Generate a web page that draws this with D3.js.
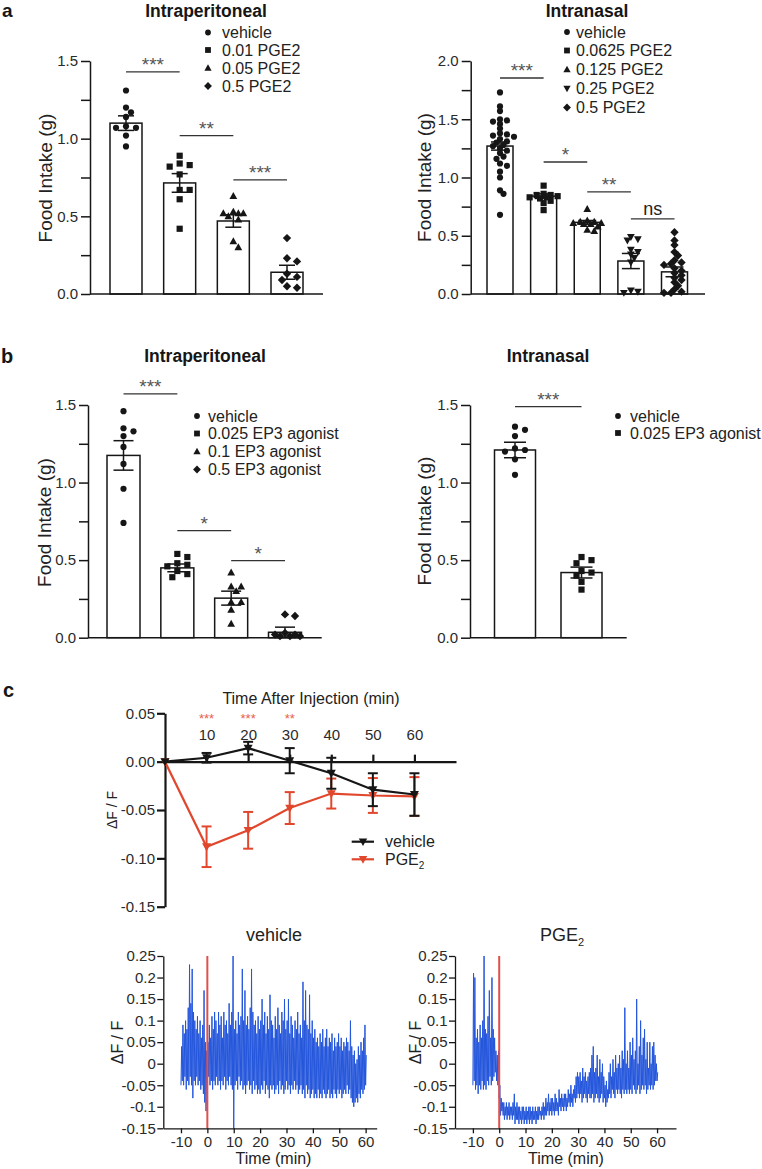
<!DOCTYPE html>
<html><head><meta charset="utf-8">
<script src="https://cdn.jsdelivr.net/npm/d3@7"></script>
<style>
body{margin:0;background:#fff;}
svg{display:block;}
</style></head><body>
<svg id="fig" width="762" height="1169"></svg>
<script>
// ---------------- DATA ----------------
// Panel a – intraperitoneal
const aIpGroups = ["vehicle", "0.01 PGE2", "0.05 PGE2", "0.5 PGE2"];
const aIpMeans = [1.10, 0.715, 0.47, 0.14];
const aIpSems = [0.047, 0.06, 0.04, 0.045];
const aIpVehicle = [1.31, 1.20, 1.17, 1.14, 1.08, 1.07, 1.07, 1.02, 0.95];
const aIp001 = [0.89, 0.84, 0.83, 0.82, 0.77, 0.67, 0.67, 0.61, 0.42];
const aIp005 = [0.63, 0.53, 0.52, 0.52, 0.52, 0.50, 0.48, 0.34, 0.30];
const aIp05 = [0.36, 0.23, 0.21, 0.13, 0.11, 0.09, 0.05, 0.04];
const aIpSigLabels = ["***", "**", "***"];
const aIpSigY = [1.43, 1.02, 0.735];

// Panel a – intranasal
const aInGroups = ["vehicle", "0.0625 PGE2", "0.125 PGE2", "0.25 PGE2", "0.5 PGE2"];
const aInMeans = [1.27, 0.84, 0.615, 0.283, 0.19];
const aInSems = [0.035, 0.02, 0.016, 0.065, 0.042];
const aInVehicle = [1.73, 1.61, 1.57, 1.50, 1.49, 1.48, 1.46, 1.42, 1.38, 1.37, 1.36, 1.35, 1.33, 1.31, 1.30, 1.28, 1.27, 1.25, 1.23, 1.21, 1.18, 1.16, 1.12, 1.10, 1.05, 1.00, 0.89, 0.86, 0.68];
const aIn00625 = [0.93, 0.86, 0.85, 0.85, 0.84, 0.83, 0.83, 0.82, 0.80, 0.78, 0.72];
const aIn0125 = [0.73, 0.63, 0.62, 0.62, 0.61, 0.61, 0.60, 0.60, 0.58, 0.55, 0.54];
const aIn025 = [0.49, 0.47, 0.46, 0.38, 0.36, 0.34, 0.31, 0.27, 0.03, 0.02, 0.01];
const aIn05 = [0.53, 0.46, 0.42, 0.36, 0.33, 0.29, 0.27, 0.26, 0.25, 0.22, 0.20, 0.18, 0.16, 0.14, 0.12, 0.10, 0.07, 0.04, 0.02, 0.01, 0.01];
const aInSigLabels = ["***", "*", "**", "ns"];
const aInSigY = [1.854, 1.133, 0.876, 0.644];

// Panel b – intraperitoneal
const bIpGroups = ["vehicle", "0.025 EP3 agonist", "0.1 EP3 agonist", "0.5 EP3 agonist"];
const bIpMeans = [1.175, 0.45, 0.255, 0.035];
const bIpSems = [0.095, 0.025, 0.045, 0.033];
const bIpVehicle = [1.46, 1.35, 1.33, 1.30, 1.23, 1.12, 0.96, 0.74];
const bIp0025 = [0.54, 0.52, 0.48, 0.47, 0.46, 0.43, 0.41, 0.39];
const bIp01 = [0.42, 0.33, 0.33, 0.30, 0.23, 0.23, 0.18, 0.09];
const bIp05 = [0.15, 0.14, 0.03, 0.02, 0.02, 0.01, 0.01, 0.01];
const bIpSigLabels = ["***", "*", "*"];
const bIpSigY = [1.572, 0.69, 0.497];

// Panel b – intranasal
const bInGroups = ["vehicle", "0.025 EP3 agonist"];
const bInMeans = [1.21, 0.42];
const bInSems = [0.05, 0.035];
const bInVehicle = [1.36, 1.34, 1.30, 1.22, 1.21, 1.20, 1.15, 1.05];
const bIn0025 = [0.52, 0.50, 0.48, 0.43, 0.42, 0.40, 0.36, 0.31];
const bInSigLabels = ["***"];
const bInSigY = [1.49];

// Panel c – time course
const cTime = [0, 10, 20, 30, 40, 50, 60];
const cVehMean = [0, 0.004, 0.014, 0.001, -0.012, -0.029, -0.034];
const cVehSem = [0, 0.005, 0.0065, 0.013, 0.016, 0.017, 0.022];
const cPgeMean = [0, -0.088, -0.071, -0.048, -0.033, -0.035, -0.036];
const cPgeSem = [0, 0.021, 0.019, 0.0165, 0.0155, 0.018, 0.02];
const cXTicks = [10, 20, 30, 40, 50, 60];
const cYTicks = [-0.15, -0.10, -0.05, 0, 0.05];
const cStarTimes = [10, 20, 30];
const cStarLabels = ["***", "***", "**"];

// Panel c – example traces (per 0.5-min bin: low and high of the signal)
const trTime = d3.range(-10, 60.01, 0.5);
const trXTicks = [-10, 0, 10, 20, 30, 40, 50, 60];
const trYTicks = [-0.15, -0.1, -0.05, 0, 0.05, 0.1, 0.15, 0.2, 0.25];
const vehHi = [
  0.04, 0.09, 0.07, 0.10, 0.08, 0.13, 0.23, 0.14, 0.22, 0.12,
  0.10, 0.08, 0.11, 0.07, 0.10, 0.06, 0.09, 0.17, 0.05, 0.03,
  0.05, 0.09, 0.06, 0.11, 0.08, 0.12, 0.10, 0.07, 0.12, 0.09,
  0.11, 0.06, 0.12, 0.09, 0.10, 0.07, 0.14, 0.09, 0.12, 0.25,
  0.08, 0.10, 0.07, 0.12, 0.09, 0.11, 0.22, 0.10, 0.17, 0.09,
  0.11, 0.08, 0.13, 0.22, 0.12, 0.09, 0.10, 0.07, 0.11, 0.08,
  0.10, 0.15, 0.09, 0.12, 0.07, 0.11, 0.08, 0.16, 0.10, 0.09,
  0.06, 0.11, 0.08, 0.13, 0.09, 0.07, 0.12, 0.10, 0.15, 0.08,
  0.10, 0.15, 0.07, 0.11, 0.09, 0.06, 0.10, 0.08, 0.12, 0.07,
  0.09, 0.06, 0.19, 0.10, 0.17, 0.09, 0.08, 0.16, 0.07, 0.10,
  0.06, 0.08, 0.05, 0.06, 0.04, 0.07, 0.05, 0.08, 0.04, 0.06,
  0.08, 0.04, 0.06, 0.05, 0.07, 0.03, 0.06, 0.04, 0.05, 0.07,
  0.04, 0.06, 0.03, 0.05, 0.04, 0.06, 0.05, 0.03, 0.10, 0.04,
  0.02, 0.03, 0.00, 0.01, 0.04, 0.02, 0.05, 0.03, 0.06, 0.09,
  0.02];
const vehLo = [
  -0.05, -0.04, -0.05, -0.03, -0.06, -0.04, -0.05, -0.03, -0.05, -0.08,
  -0.04, -0.05, -0.03, -0.05, -0.04, -0.06, -0.05, -0.07, -0.09, -0.11,
  -0.06, -0.03, -0.05, -0.04, -0.06, -0.04, -0.05, -0.03, -0.05, -0.04,
  -0.06, -0.04, -0.05, -0.03, -0.06, -0.04, -0.05, -0.03, -0.05, -0.06,
  -0.15, -0.05, -0.04, -0.06, -0.03, -0.05, -0.04, -0.06, -0.05, -0.07,
  -0.05, -0.04, -0.06, -0.05, -0.07, -0.04, -0.06, -0.05, -0.07, -0.06,
  -0.07, -0.05, -0.06, -0.04, -0.07, -0.05, -0.06, -0.08, -0.05, -0.06,
  -0.05, -0.07, -0.06, -0.05, -0.07, -0.04, -0.06, -0.05, -0.07, -0.06,
  -0.04, -0.06, -0.05, -0.07, -0.05, -0.06, -0.04, -0.06, -0.05, -0.07,
  -0.06, -0.05, -0.07, -0.06, -0.08, -0.05, -0.07, -0.06, -0.08, -0.07,
  -0.06, -0.08, -0.07, -0.08, -0.06, -0.08, -0.07, -0.08, -0.06, -0.07,
  -0.08, -0.07, -0.06, -0.08, -0.07, -0.08, -0.06, -0.07, -0.08, -0.06,
  -0.07, -0.06, -0.08, -0.07, -0.06, -0.07, -0.05, -0.07, -0.06, -0.08,
  -0.09, -0.10, -0.09, -0.08, -0.09, -0.07, -0.08, -0.06, -0.07, -0.06,
  -0.05];
const pgeHi = [
  0.21, 0.20, 0.06, 0.08, 0.05, 0.09, 0.06, 0.10, 0.25, 0.08,
  0.07, 0.11, 0.17, 0.06, 0.20, 0.08, 0.06, 0.03, 0.02, 0.03,
  -0.05, -0.08, -0.09, -0.09, -0.10, -0.09, -0.10, -0.09, -0.10, -0.10,
  -0.09, -0.07, -0.10, -0.09, -0.10, -0.10, -0.11, -0.10, -0.10, -0.11,
  -0.10, -0.11, -0.10, -0.10, -0.11, -0.10, -0.11, -0.10, -0.11, -0.10,
  -0.10, -0.11, -0.10, -0.09, -0.10, -0.08, -0.09, -0.07, -0.09, -0.08,
  -0.08, -0.09, -0.07, -0.08, -0.09, -0.06, -0.08, -0.07, -0.08, -0.07,
  -0.07, -0.08, -0.06, -0.07, -0.05, -0.07, -0.06, -0.05, -0.03, -0.02,
  -0.03, -0.02, -0.04, -0.01, -0.03, -0.02, -0.04, -0.03, -0.02, -0.01,
  0.02, 0.04, -0.02, -0.01, 0.02, -0.03, 0.01, -0.02, 0.00, -0.03,
  -0.05, -0.04, -0.06, -0.02, 0.00, -0.03, 0.01, -0.02, 0.02, -0.01,
  0.00, 0.02, -0.01, 0.03, 0.01, 0.13, 0.00, 0.03, -0.01, 0.05,
  0.02, 0.06, 0.01, 0.03, 0.15, 0.00, 0.04, 0.10, 0.02, 0.06,
  0.08, 0.01, 0.05, -0.01, 0.05, 0.00, 0.04, 0.05, 0.02, 0.00,
  -0.02];
const pgeLo = [
  -0.05, -0.04, -0.06, -0.05, -0.07, -0.05, -0.06, -0.04, -0.06, -0.05,
  -0.06, -0.04, -0.05, -0.03, -0.05, -0.04, -0.03, -0.02, -0.04, -0.05,
  -0.08, -0.12, -0.11, -0.12, -0.13, -0.12, -0.13, -0.12, -0.13, -0.12,
  -0.13, -0.12, -0.14, -0.13, -0.13, -0.14, -0.13, -0.14, -0.13, -0.14,
  -0.13, -0.14, -0.13, -0.14, -0.13, -0.14, -0.13, -0.13, -0.14, -0.13,
  -0.13, -0.12, -0.13, -0.12, -0.13, -0.12, -0.12, -0.11, -0.12, -0.11,
  -0.12, -0.11, -0.12, -0.11, -0.11, -0.12, -0.10, -0.11, -0.10, -0.11,
  -0.10, -0.11, -0.10, -0.09, -0.10, -0.09, -0.10, -0.08, -0.09, -0.08,
  -0.07, -0.08, -0.07, -0.09, -0.08, -0.07, -0.08, -0.09, -0.07, -0.08,
  -0.08, -0.07, -0.09, -0.08, -0.07, -0.08, -0.09, -0.08, -0.07, -0.09,
  -0.08, -0.10, -0.09, -0.08, -0.07, -0.08, -0.06, -0.07, -0.08, -0.06,
  -0.07, -0.06, -0.07, -0.08, -0.06, -0.07, -0.06, -0.07, -0.06, -0.07,
  -0.06, -0.07, -0.05, -0.06, -0.07, -0.06, -0.05, -0.07, -0.06, -0.05,
  -0.06, -0.05, -0.07, -0.06, -0.05, -0.06, -0.05, -0.06, -0.05, -0.04,
  -0.04];

// ---------------- DRAWING ----------------
const FONT = "'Liberation Sans', Arial, Helvetica, sans-serif";
const INK = "#161616";
const RED = "#e1472d";
const BLUE = "#2456dc";
const svg = d3.select("#fig").attr("font-family", FONT);

function text(x, y, s, o = {}) {
  const t = svg.append("text").attr("x", x).attr("y", y)
    .attr("font-size", o.size || 16).attr("fill", o.fill || INK)
    .attr("text-anchor", o.anchor || "start")
    .attr("font-weight", o.bold ? "bold" : "normal");
  if (o.rotate) t.attr("transform", `rotate(-90,${x},${y})`);
  t.text(s);
  return t;
}

function styleAxis(sel, fs, sw) {
  sel.attr("font-family", FONT).attr("font-size", fs);
  sel.select(".domain").attr("stroke", INK).attr("stroke-width", sw);
  sel.selectAll(".tick line").attr("stroke", INK).attr("stroke-width", sw);
  sel.selectAll(".tick text").attr("fill", "#2a2a2a");
}

function shapePath(shape, r) {
  switch (shape) {
    case "circle": return d3.symbol(d3.symbolCircle, Math.PI * r * r)();
    case "square": return `M${-r},${-r}H${r}V${r}H${-r}Z`;
    case "triangle": return `M0,${-r * 1.3}L${r * 1.25},${r * 0.95}L${-r * 1.25},${r * 0.95}Z`;
    case "triangleDown": return `M0,${r * 1.3}L${r * 1.25},${-r * 0.95}L${-r * 1.25},${-r * 0.95}Z`;
    case "diamond": return `M0,${-r * 1.35}L${r * 1.35},0L0,${r * 1.35}L${-r * 1.35},0Z`;
  }
}

// deterministic scatter spreading (GraphPad-like)
function swarm(vals, y, step, dmin, maxOff) {
  const placed = [];
  const out = new Array(vals.length);
  vals.map((v, i) => ({ v, i })).sort((a, b) => b.v - a.v).forEach(p => {
    const py = y(p.v);
    let best = 0, bestD = -1, dx = 0;
    for (let n = 0; n < 60; n++) {
      dx = n === 0 ? 0 : (n % 2 ? 1 : -1) * Math.ceil(n / 2) * step;
      if (Math.abs(dx) > maxOff) break;
      const d = placed.length ? d3.min(placed, q => Math.hypot(q.dx - dx, q.py - py)) : 99;
      if (d >= dmin) { best = dx; bestD = d; break; }
      if (d > bestD) { bestD = d; best = dx; }
    }
    placed.push({ dx: best, py });
    out[p.i] = { dx: best, py };
  });
  return out;
}

function barPanel(o) {
  const g = svg.append("g");
  const y = d3.scaleLinear().domain([0, o.yMax]).range([o.yBot, o.yTop]);
  const x = d3.scalePoint().domain(o.groups).range(o.centers);

  g.append("g").selectAll("rect").data(o.groups).join("rect")
    .attr("x", d => x(d) - o.barW / 2).attr("width", o.barW)
    .attr("y", (d, i) => y(o.means[i])).attr("height", (d, i) => y(0) - y(o.means[i]))
    .attr("fill", "#fff").attr("stroke", INK).attr("stroke-width", 1.5);

  o.groups.forEach((grp, gi) => {
    const sw = swarm(o.points[gi], y, o.step, o.dmin, o.maxOff);
    g.append("g").selectAll("path").data(sw).join("path")
      .attr("d", shapePath(o.shapes[gi], 3.1))
      .attr("transform", d => `translate(${x(grp) + d.dx},${d.py})`)
      .attr("fill", INK);
  });

  const eb = g.append("g").attr("stroke", INK).attr("stroke-width", 1.5);
  o.groups.forEach((grp, i) => {
    const cx = x(grp), top = y(o.means[i] + o.sems[i]), bot = y(Math.max(0, o.means[i] - o.sems[i]));
    eb.append("line").attr("x1", cx).attr("x2", cx).attr("y1", top).attr("y2", bot);
    eb.append("line").attr("x1", cx - o.cap).attr("x2", cx + o.cap).attr("y1", top).attr("y2", top);
    eb.append("line").attr("x1", cx - o.cap).attr("x2", cx + o.cap).attr("y1", bot).attr("y2", bot);
  });

  const yAx = d3.axisLeft(y).tickValues(d3.range(0, o.yMax + 1e-9, 0.25))
    .tickSize(9).tickSizeOuter(0).tickPadding(3)
    .tickFormat(d => Math.abs(d * 2 - Math.round(d * 2)) < 1e-9 ? d.toFixed(1) : "");
  styleAxis(g.append("g").attr("transform", `translate(${o.axisX},0)`).call(yAx), 15, 1.5);
  g.append("line").attr("x1", o.axisX).attr("x2", o.axisEnd).attr("y1", y(0)).attr("y2", y(0))
    .attr("stroke", INK).attr("stroke-width", 1.5);

  o.sigLabels.forEach((lab, k) => {
    const a = o.groups[k], b = o.groups[k + 1];
    const yy = y(o.sigY[k]);
    g.append("line").attr("x1", x(a)).attr("x2", x(b)).attr("y1", yy).attr("y2", yy)
      .attr("stroke", "#333").attr("stroke-width", 1.3);
    g.append("text").attr("x", (x(a) + x(b)) / 2).attr("y", lab === "ns" ? yy - 4 : yy - 1)
      .attr("text-anchor", "middle").attr("font-size", lab === "ns" ? 18 : 19)
      .attr("fill", lab === "ns" ? "#222" : "#555").text(lab);
  });

  text(o.titleX, o.titleY, o.title, { size: 17.5, bold: true, anchor: "middle" });
  text(o.yLab[0], o.yLab[1], "Food Intake (g)", { size: 19, anchor: "middle", rotate: true, fill: "#222" });

  o.groups.forEach((grp, i) => {
    const by = o.legend.baselines[i];
    g.append("path").attr("d", shapePath(o.shapes[i], 2.9))
      .attr("transform", `translate(${o.legend.mx},${by - 5.5})`).attr("fill", INK);
    text(o.legend.tx, by, grp, { size: 16, fill: "#222" });
  });
}

// panel labels
text(2, 17, "a", { size: 19, bold: true });
text(1, 363, "b", { size: 20, bold: true });
text(3, 697, "c", { size: 20, bold: true });

barPanel({
  axisX: 90, axisEnd: 323, yTop: 61, yBot: 294, yMax: 1.5,
  centers: [126, 287], barW: 32, cap: 8, step: 5, dmin: 6.8, maxOff: 14,
  groups: aIpGroups, means: aIpMeans, sems: aIpSems,
  points: [aIpVehicle, aIp001, aIp005, aIp05],
  shapes: ["circle", "square", "triangle", "diamond"],
  sigLabels: aIpSigLabels, sigY: aIpSigY,
  title: "Intraperitoneal", titleX: 206, titleY: 16.5,
  yLab: [52, 178],
  legend: { mx: 208, tx: 222, baselines: [38, 55.5, 73.5, 91.5] }
});

barPanel({
  axisX: 470.7, axisEnd: 705, yTop: 61, yBot: 294, yMax: 2.0,
  centers: [500, 674.5], barW: 26, cap: 9, step: 3.5, dmin: 4.6, maxOff: 14,
  groups: aInGroups, means: aInMeans, sems: aInSems,
  points: [aInVehicle, aIn00625, aIn0125, aIn025, aIn05],
  shapes: ["circle", "square", "triangle", "triangleDown", "diamond"],
  sigLabels: aInSigLabels, sigY: aInSigY,
  title: "Intranasal", titleX: 587, titleY: 16.5,
  yLab: [431, 177.5],
  legend: { mx: 567, tx: 576, baselines: [37.5, 56, 75, 94, 113] }
});

barPanel({
  axisX: 88, axisEnd: 321.7, yTop: 405, yBot: 637.7, yMax: 1.5,
  centers: [123.5, 285], barW: 33, cap: 10, step: 5, dmin: 6.5, maxOff: 15,
  groups: bIpGroups, means: bIpMeans, sems: bIpSems,
  points: [bIpVehicle, bIp0025, bIp01, bIp05],
  shapes: ["circle", "square", "triangle", "diamond"],
  sigLabels: bIpSigLabels, sigY: bIpSigY,
  title: "Intraperitoneal", titleX: 205, titleY: 362,
  yLab: [50.5, 522.5],
  legend: { mx: 197, tx: 208, baselines: [421.5, 439, 457, 475] }
});

barPanel({
  axisX: 470, axisEnd: 626.7, yTop: 405, yBot: 637.7, yMax: 1.5,
  centers: [515, 581.5], barW: 41, cap: 11, step: 5, dmin: 6.5, maxOff: 15,
  groups: bInGroups, means: bInMeans, sems: bInSems,
  points: [bInVehicle, bIn0025],
  shapes: ["circle", "square"],
  sigLabels: bInSigLabels, sigY: bInSigY,
  title: "Intranasal", titleX: 548, titleY: 362,
  yLab: [430.5, 521],
  legend: { mx: 618, tx: 630, baselines: [421.5, 438.5] }
});

// ---- panel c: time course ----
(function () {
  const g = svg.append("g");
  const x = d3.scaleLinear().domain([0, 70]).range([165, 456]);
  const y = d3.scaleLinear().domain([-0.15, 0.05]).range([906.7, 713.3]);

  const yAx = d3.axisLeft(y).tickValues(cYTicks).tickSize(8).tickSizeOuter(0).tickPadding(2)
    .tickFormat(d => d.toFixed(2));
  styleAxis(g.append("g").attr("transform", "translate(165,0)").call(yAx), 15, 2.2);
  const xAx = d3.axisTop(x).tickValues(cXTicks).tickSize(7).tickSizeOuter(0).tickPadding(15)
    .tickFormat(d => String(d));
  styleAxis(g.append("g").attr("transform", `translate(0,${y(0)})`).call(xAx), 15, 2.2);

  text(311, 703.5, "Time After Injection (min)", { size: 16, anchor: "middle", fill: "#222" });
  text(116.5, 810, "ΔF / F", { size: 14, anchor: "middle", rotate: true, fill: "#222" });

  cStarTimes.forEach((t, i) => {
    g.append("text").attr("x", x(t)).attr("y", 723).attr("text-anchor", "middle")
      .attr("font-size", 13).attr("fill", "#e8604c").text(cStarLabels[i]);
  });

  function series(mean, sem, color) {
    const s = g.append("g");
    s.append("path").datum(cTime.map((t, i) => [t, mean[i]]))
      .attr("d", d3.line().x(d => x(d[0])).y(d => y(d[1])))
      .attr("fill", "none").attr("stroke", color).attr("stroke-width", 2.2);
    cTime.forEach((t, i) => {
      if (sem[i] > 0) {
        const cx = x(t), top = y(mean[i] + sem[i]), bot = y(mean[i] - sem[i]);
        s.append("line").attr("x1", cx).attr("x2", cx).attr("y1", top).attr("y2", bot).attr("stroke", color).attr("stroke-width", 2);
        [top, bot].forEach(yy => s.append("line").attr("x1", cx - 5).attr("x2", cx + 5).attr("y1", yy).attr("y2", yy).attr("stroke", color).attr("stroke-width", 2));
      }
      s.append("path").attr("d", shapePath("triangleDown", 3.6))
        .attr("transform", `translate(${x(t)},${y(mean[i])})`).attr("fill", color);
    });
  }
  series(cPgeMean, cPgeSem, RED);
  series(cVehMean, cVehSem, INK);

  // legend
  [["vehicle", INK, 841.7], ["PGE", RED, 859.3]].forEach(([lab, col, yy]) => {
    g.append("line").attr("x1", 351.7).attr("x2", 374).attr("y1", yy).attr("y2", yy).attr("stroke", col).attr("stroke-width", 2.2);
    g.append("path").attr("d", shapePath("triangleDown", 3.4)).attr("transform", `translate(363,${yy})`).attr("fill", col);
    const t = text(385, yy + 5.7, lab, { size: 16, fill: "#222" });
    if (lab === "PGE") t.append("tspan").attr("font-size", 10).attr("dy", 4).text("2");
  });
})();

// ---- panel c: traces ----
function tracePanel(o) {
  const g = svg.append("g");
  const x = d3.scaleLinear().domain(o.xDom).range(o.xRange);
  const y = d3.scaleLinear().domain([-0.15, 0.25]).range([1128.3, 956]);
  const pts = [];
  trTime.forEach((t, i) => { pts.push([t, o.lo[i]]); pts.push([t + 0.25, o.hi[i]]); });
  g.append("path").datum(pts)
    .attr("d", d3.line().x(d => x(d[0])).y(d => y(d[1])))
    .attr("fill", "none").attr("stroke", BLUE).attr("stroke-width", 1).attr("stroke-linejoin", "round");
  g.append("line").attr("x1", x(0)).attr("x2", x(0)).attr("y1", y(0.25)).attr("y2", y(-0.15))
    .attr("stroke", "#e0504a").attr("stroke-width", 2);

  const yAx = d3.axisLeft(y).tickValues(trYTicks).tickSize(6).tickSizeOuter(0).tickPadding(1.5)
    .tickFormat(d => String(d));
  styleAxis(g.append("g").attr("transform", `translate(${o.xRange[0]},0)`).call(yAx), 15, 1.3);
  const xAx = d3.axisBottom(x).tickValues(trXTicks).tickSize(5).tickSizeOuter(0).tickPadding(3)
    .tickFormat(d => String(d));
  styleAxis(g.append("g").attr("transform", `translate(0,${y(-0.15)})`).call(xAx), 15, 1.3);

  text(o.labX, 1163.5, "Time (min)", { size: 16, anchor: "middle", fill: "#222" });
  text(o.yLabX, 1042.5, "ΔF / F", { size: 16, anchor: "middle", rotate: true, fill: "#222" });
  const tt = text(o.titleX, 941, o.title, { size: 18, anchor: "middle", fill: "#222" });
  if (o.sub) tt.append("tspan").attr("font-size", 11).attr("dy", 5).text(o.sub);
}

tracePanel({ xDom: [-16.7, 64.2], xRange: [163.3, 376.7], lo: vehLo, hi: vehHi,
  title: "vehicle", titleX: 274, labX: 273.5, yLabX: 122.5 });
tracePanel({ xDom: [-16.8, 67.2], xRange: [455, 676], lo: pgeLo, hi: pgeHi,
  title: "PGE", sub: "2", titleX: 562, labX: 566, yLabX: 420.5 });
</script>
</body></html>
